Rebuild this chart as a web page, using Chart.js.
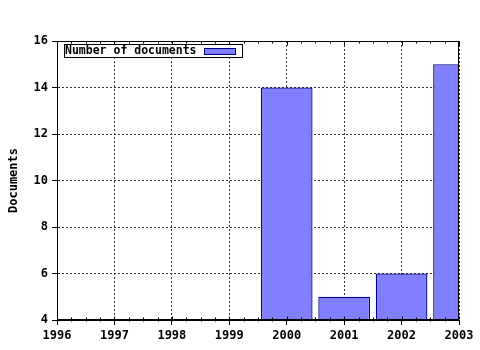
<!DOCTYPE html>
<html>
<head>
<meta charset="utf-8">
<script src="https://cdn.jsdelivr.net/npm/chart.js@4"></script>
<style>
html,body{margin:0;padding:0;background:#fff;}
#wrap{width:480px;height:350px;}
</style>
</head>
<body>
<div id="wrap"><canvas id="c" width="480" height="350"></canvas></div>
<script>
const years = [1996, 1997, 1998, 1999, 2000, 2001, 2002, 2003];
const documents = [null, null, null, null, 14, 5, 6, 15];
const yTicks = [4, 6, 8, 10, 12, 14, 16];
const seriesLabel = 'Number of documents';
const yTitle = 'Documents';

const FONT = "'DejaVu Sans Mono', 'Liberation Mono', monospace";
const FILL = '#8080ff';
const EDGE = '#000088';

const points = years.map((y, i) => ({x: y, y: documents[i]}));

const framePlugin = {
  id: 'frame',
  afterDatasetsDraw(chart) {
    const ctx = chart.ctx;
    const a = chart.chartArea;
    const xs = chart.scales.x;
    ctx.save();
    ctx.setLineDash([]);
    ctx.strokeStyle = '#000';
    ctx.lineWidth = 1;
    const L = Math.round(a.left) + 0.5, R = Math.round(a.right) - 0.5;
    const T = Math.round(a.top) + 0.5, B = Math.round(a.bottom) - 0.5;
    ctx.beginPath();
    ctx.moveTo(L, T); ctx.lineTo(R, T); ctx.lineTo(R, B); ctx.lineTo(L, B); ctx.closePath();
    ctx.stroke();
    ctx.beginPath();
    for (let i = 0; i < years.length; i++) {
      const v = years[i];
      const px = Math.round(xs.getPixelForValue(v)) + 0.5;
      ctx.moveTo(px, T); ctx.lineTo(px, T + 4);
      ctx.moveTo(px, B); ctx.lineTo(px, B - 3);
      if (i < years.length - 1) {
        for (let k = 1; k < 4; k++) {
          const mx = Math.round(xs.getPixelForValue(v + k / 4)) + 0.5;
          ctx.moveTo(mx, T); ctx.lineTo(mx, T + 2);
          ctx.moveTo(mx, B - 2); ctx.lineTo(mx, B + 2);
        }
      }
    }
    ctx.stroke();
    // legend box
    const lx = 64.5, ly = 44.5, lw = 178, lh = 13;
    ctx.fillStyle = '#fff';
    ctx.fillRect(lx, ly, lw, lh);
    ctx.strokeRect(lx, ly, lw, lh);
    ctx.fillStyle = '#000';
    ctx.font = 'bold 11.5px ' + FONT;
    ctx.textBaseline = 'middle';
    ctx.textAlign = 'left';
    ctx.fillText(chart.data.datasets[0].label, 65, 51.5);
    ctx.fillStyle = FILL;
    ctx.fillRect(204.5, 48.5, 31, 6);
    ctx.strokeStyle = EDGE;
    ctx.strokeRect(204.5, 48.5, 31, 6);
    ctx.restore();
  }
};

const gridOpts = {
  color: '#333',
  offset: false,
  tickLength: 5,
  tickColor: '#000',
  tickBorderDash: [],
  lineWidth: 1
};
const borderOpts = {display: true, color: '#000', width: 1, dash: [2, 2]};
const tickFont = {family: FONT, size: 12, weight: 'bold'};

new Chart(document.getElementById('c'), {
  type: 'bar',
  data: {
    datasets: [{
      label: seriesLabel,
      data: points,
      backgroundColor: FILL,
      borderColor: EDGE,
      borderWidth: 1.3,
      borderSkipped: 'start',
      barPercentage: 0.9,
      categoryPercentage: 1.0
    }]
  },
  options: {
    responsive: false,
    animation: false,
    devicePixelRatio: 1,
    layout: {padding: {top: 41, right: 21, bottom: 0, left: 0}},
    plugins: {legend: {display: false}, tooltip: {enabled: false}},
    scales: {
      x: {
        type: 'linear',
        min: years[0],
        max: years[years.length - 1],
        offset: false,
        afterBuildTicks(s) { s.ticks = years.map(v => ({value: v})); },
        afterFit(s) { s.height = 30; },
        ticks: {
          autoSkip: false,
          maxRotation: 0,
          padding: 4,
          color: '#000',
          font: tickFont,
          callback: v => String(v)
        },
        grid: gridOpts,
        border: borderOpts
      },
      y: {
        min: yTicks[0],
        max: yTicks[yTicks.length - 1],
        afterBuildTicks(s) { s.ticks = yTicks.map(v => ({value: v})); },
        afterFit(s) { s.width = 57; },
        ticks: {padding: 4, color: '#000', font: tickFont},
        grid: gridOpts,
        border: borderOpts,
        title: {
          display: true,
          text: yTitle,
          color: '#000',
          font: tickFont,
          padding: {top: 7, bottom: 4}
        }
      }
    }
  },
  plugins: [framePlugin]
});
</script>
</body>
</html>
